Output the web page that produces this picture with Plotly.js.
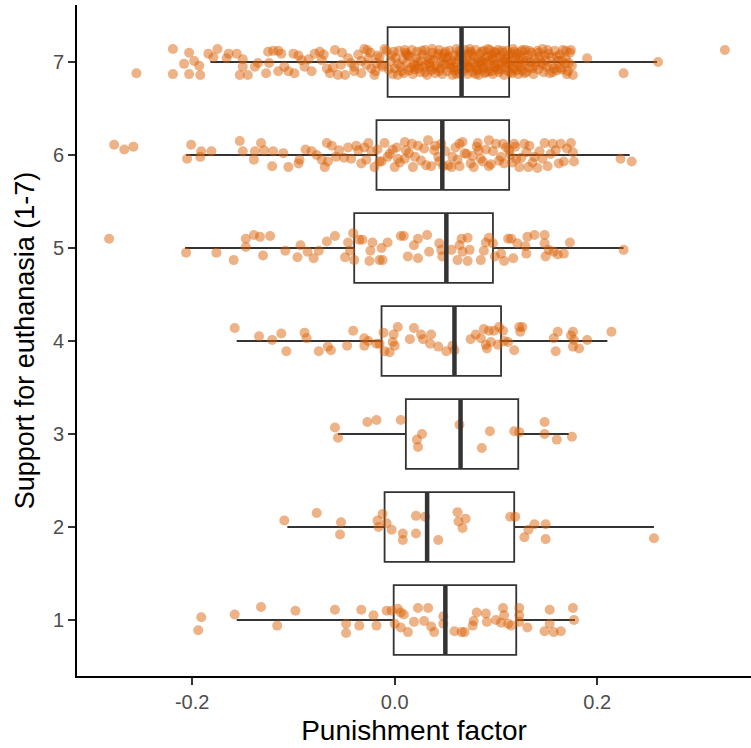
<!DOCTYPE html>
<html>
<head>
<meta charset="utf-8">
<script src="https://cdn.plot.ly/plotly-3.0.1.min.js"></script>
<style>html,body{margin:0;padding:0;background:#fff}#chart{width:751px;height:748px}</style>
</head>
<body>
<div id="chart"></div>
<script>
// Box statistics per group (Support for euthanasia 1..7)
const groups      = [1, 2, 3, 4, 5, 6, 7];
const q1Vals      = [-0.001, -0.010, 0.011, -0.013, -0.040, -0.018, -0.007];
const medianVals  = [0.050, 0.032, 0.065, 0.059, 0.051, 0.047, 0.066];
const q3Vals      = [0.120, 0.118, 0.122, 0.105, 0.097, 0.113, 0.113];
const lowerVals   = [-0.156, -0.106, -0.056, -0.156, -0.207, -0.206, -0.182];
const upperVals   = [0.178, 0.256, 0.172, 0.210, 0.226, 0.232, 0.259];
const xTickVals   = [-0.2, 0.0, 0.2];
const xTickText   = ['-0.2', '0.0', '0.2'];

// Jittered points: [punishment factor, jittered group position]
const pts1 = [[-0.191,1.03],[-0.194,0.89],[-0.158,1.06],[-0.132,1.14],[-0.116,0.94],[-0.098,1.10],[-0.059,1.11],[-0.048,0.96],[-0.048,0.86],[-0.035,0.94],[-0.033,1.11],[-0.021,1.05],[-0.018,0.94],[-0.008,1.10],[-0.003,1.10],[0.000,0.96],[0.003,1.12],[0.006,0.92],[0.006,1.08],[0.009,1.06],[0.013,0.87],[0.019,0.98],[0.023,1.13],[0.029,0.99],[0.033,1.13],[0.036,0.93],[0.039,0.87],[0.048,1.04],[0.048,0.96],[0.059,0.88],[0.066,0.87],[0.069,0.87],[0.077,0.94],[0.078,0.99],[0.081,1.08],[0.090,1.07],[0.091,0.98],[0.100,1.00],[0.105,0.97],[0.108,1.05],[0.107,1.13],[0.112,0.96],[0.115,0.94],[0.123,1.13],[0.123,1.05],[0.123,0.98],[0.131,0.92],[0.148,0.88],[0.153,1.11],[0.153,0.96],[0.157,0.87],[0.164,0.88],[0.176,1.13],[0.177,1.00]];
const pts2 = [[-0.109,2.07],[-0.077,2.15],[-0.053,2.05],[-0.054,1.92],[-0.017,2.07],[-0.016,2.00],[-0.012,2.14],[-0.008,2.04],[-0.003,1.97],[0.008,1.93],[0.008,1.86],[0.021,2.12],[0.021,1.93],[0.030,2.11],[0.043,1.86],[0.062,2.16],[0.063,2.06],[0.070,2.09],[0.067,1.99],[0.114,2.11],[0.119,2.11],[0.132,1.97],[0.138,2.03],[0.128,1.89],[0.149,2.03],[0.149,1.87],[0.256,1.88]];
const pts3 = [[-0.059,3.07],[-0.056,2.96],[-0.027,3.13],[-0.018,3.15],[0.006,3.15],[0.027,3.00],[0.022,2.94],[0.023,2.86],[0.064,3.10],[0.086,2.85],[0.094,3.03],[0.118,3.03],[0.123,3.02],[0.148,3.13],[0.148,3.00],[0.160,2.94],[0.175,2.97]];
const pts4 = [[-0.158,4.14],[-0.134,4.05],[-0.121,4.01],[-0.112,4.08],[-0.107,3.89],[-0.089,4.09],[-0.087,4.03],[-0.075,3.89],[-0.066,3.94],[-0.063,3.90],[-0.047,3.95],[-0.041,4.11],[-0.030,4.03],[-0.030,3.95],[-0.026,4.00],[-0.018,3.97],[-0.015,3.97],[-0.011,4.09],[-0.010,3.89],[-0.005,3.88],[-0.002,3.99],[-0.001,4.07],[0.003,4.15],[0.000,3.95],[0.015,4.02],[0.019,4.14],[0.026,4.07],[0.028,4.02],[0.036,4.07],[0.035,3.97],[0.043,3.94],[0.051,3.89],[0.057,3.95],[0.059,3.90],[0.075,4.02],[0.080,4.07],[0.085,4.03],[0.088,4.13],[0.090,3.96],[0.091,3.92],[0.093,4.11],[0.095,3.99],[0.098,4.11],[0.102,3.96],[0.103,4.15],[0.107,4.11],[0.108,4.00],[0.112,3.99],[0.118,3.90],[0.123,4.15],[0.124,4.10],[0.126,4.15],[0.157,4.03],[0.159,3.89],[0.161,4.10],[0.174,4.06],[0.176,4.10],[0.177,4.01],[0.176,3.94],[0.182,3.92],[0.190,4.01],[0.214,4.10]];
const pts5 = [[-0.282,5.10],[-0.206,4.95],[-0.176,4.95],[-0.159,4.87],[-0.147,5.10],[-0.147,5.01],[-0.139,5.14],[-0.133,5.12],[-0.130,4.92],[-0.123,5.13],[-0.108,4.97],[-0.096,4.90],[-0.093,5.03],[-0.086,4.96],[-0.080,4.89],[-0.075,4.97],[-0.067,5.07],[-0.059,5.13],[-0.049,4.90],[-0.046,5.06],[-0.044,4.97],[-0.040,4.87],[-0.041,5.16],[-0.035,5.09],[-0.032,5.09],[-0.024,4.97],[-0.022,5.06],[-0.025,4.86],[-0.015,4.87],[-0.013,5.00],[-0.012,4.87],[-0.007,5.06],[0.006,5.13],[0.009,5.13],[0.013,4.91],[0.019,5.03],[0.023,4.89],[0.023,5.10],[0.032,5.14],[0.034,4.96],[0.044,5.05],[0.046,4.98],[0.047,4.91],[0.056,4.98],[0.062,4.87],[0.064,5.03],[0.066,5.10],[0.067,4.96],[0.072,5.11],[0.072,4.86],[0.074,4.98],[0.085,4.87],[0.088,4.97],[0.090,5.06],[0.093,5.11],[0.097,5.05],[0.099,4.91],[0.105,4.94],[0.108,4.86],[0.112,5.10],[0.115,5.10],[0.117,4.89],[0.121,5.05],[0.129,5.02],[0.131,5.12],[0.130,4.94],[0.138,5.14],[0.148,5.14],[0.148,5.05],[0.149,4.91],[0.152,4.98],[0.157,4.96],[0.161,4.93],[0.167,4.94],[0.173,5.06],[0.226,4.98]];
const pts6 = [[-0.277,6.11],[-0.267,6.06],[-0.258,6.09],[-0.201,6.11],[-0.205,5.96],[-0.191,6.04],[-0.192,5.98],[-0.181,6.04],[-0.153,6.15],[-0.150,6.04],[-0.139,5.95],[-0.138,6.04],[-0.132,6.13],[-0.129,6.05],[-0.120,6.04],[-0.121,5.88],[-0.105,5.87],[-0.094,5.95],[-0.095,5.91],[-0.088,6.06],[-0.082,6.04],[-0.077,6.00],[-0.072,5.95],[-0.069,5.87],[-0.067,6.13],[-0.066,5.93],[-0.058,5.98],[-0.055,6.05],[-0.046,6.08],[-0.043,5.96],[-0.038,6.10],[-0.036,6.05],[-0.033,5.91],[-0.028,5.95],[-0.026,6.13],[-0.023,6.04],[-0.020,5.87],[-0.017,6.06],[-0.013,5.93],[-0.010,6.13],[-0.007,5.98],[-0.002,6.06],[0.000,5.87],[0.003,5.96],[0.010,6.14],[0.011,6.05],[0.010,5.96],[0.020,5.98],[0.018,5.87],[0.023,6.10],[0.033,6.16],[0.036,5.88],[0.039,6.05],[0.043,5.98],[0.046,6.12],[0.048,5.88],[0.056,5.87],[0.057,5.98],[0.064,6.12],[0.064,5.88],[0.069,6.02],[0.075,5.91],[0.077,5.99],[0.082,6.13],[0.083,6.05],[0.085,5.96],[0.093,6.16],[0.093,5.88],[0.097,6.04],[0.105,5.98],[0.107,6.12],[0.108,5.91],[0.113,6.05],[0.118,6.12],[0.120,5.96],[0.123,5.87],[0.128,6.12],[0.130,6.03],[0.132,5.87],[0.138,5.98],[0.141,5.86],[0.148,6.13],[0.151,5.88],[0.156,6.12],[0.159,6.05],[0.164,6.12],[0.167,5.93],[0.174,6.13],[0.176,6.03],[0.177,5.93],[0.223,5.96],[0.234,5.93],
[0.002,6.08],[0.005,5.92],[0.014,6.02],[0.017,6.12],[0.026,5.94],[0.029,6.07],[0.031,5.89],[0.040,6.10],[0.044,5.93],[0.050,6.04],[0.053,5.89],[0.060,6.08],[0.062,5.95],[0.067,6.14],[0.071,6.01],[0.078,5.87],[0.081,6.09],[0.087,5.93],[0.090,6.06],[0.095,5.90],[0.100,6.12],[0.103,5.94],[0.110,6.08],[0.114,6.00],[0.116,5.92],[0.119,6.09],[0.125,5.97],[0.133,6.10],[0.136,5.92],[0.143,6.04],[0.146,5.96],[0.154,6.01],[0.162,5.91],[0.170,6.07],[-0.005,6.01],[-0.015,5.93],[-0.030,6.08],[-0.050,5.97],[-0.062,6.10],[-0.110,6.02]];
const pts7 = [[-0.255,6.88],[-0.219,7.14],[-0.219,6.87],[-0.203,7.10],[-0.208,6.98],[-0.203,6.87],[-0.198,7.01],[-0.193,6.96],[-0.192,6.86],[-0.184,7.09],[-0.175,7.14],[-0.179,7.05],[-0.166,7.04],[-0.164,7.09],[-0.156,7.09],[-0.150,7.03],[-0.153,6.86],[-0.145,6.86],[-0.150,6.95],[-0.138,6.95],[-0.135,6.99],[-0.127,6.88],[-0.124,6.99],[-0.125,7.11],[-0.120,7.12],[-0.115,7.12],[-0.112,7.09],[-0.115,6.90],[-0.109,6.95],[-0.105,6.90],[-0.100,7.09],[-0.095,7.07],[-0.092,7.02],[-0.099,6.88],[-0.089,6.95],[-0.082,6.90],[-0.079,7.09],[-0.074,7.11],[-0.072,7.02],[-0.067,6.93],[-0.059,7.13],[-0.064,6.88],[-0.056,6.86],[-0.049,6.86],[-0.053,6.97],[-0.046,7.04],[-0.040,6.95],[-0.033,6.88],[-0.030,7.14],[-0.026,7.04],[-0.023,6.93],[-0.020,6.86],[-0.017,7.07],[-0.013,6.97],[-0.010,7.14],[-0.003,7.07],[0.000,6.93],[0.003,6.86],
[-0.028,6.97],[-0.024,7.10],[-0.019,6.90],[-0.015,7.05],[-0.012,6.95],[-0.008,7.12],[-0.006,6.92],[-0.004,7.01],[-0.002,6.87],[-0.036,7.08],[-0.043,6.99],[-0.052,7.10],[-0.061,6.94],[-0.070,7.08],[-0.085,7.03],[-0.040,6.90],
[0.004,7.12],[0.006,6.95],[0.008,7.03],[0.009,6.88],[0.011,7.10],[0.012,6.99],[0.014,6.91],[0.015,7.06],[0.017,7.13],[0.018,6.87],[0.019,6.97],[0.021,7.04],[0.022,7.11],[0.024,6.93],[0.025,6.89],[0.026,7.01],[0.028,7.08],[0.029,6.95],[0.030,7.13],[0.032,6.86],[0.033,7.05],[0.034,6.99],[0.036,6.91],[0.037,7.10],[0.038,7.02],[0.040,6.88],[0.041,6.96],[0.042,7.07],[0.044,7.13],[0.045,6.93],[0.046,7.00],[0.047,6.87],[0.049,7.09],[0.050,6.97],[0.051,7.04],[0.052,6.90],[0.054,7.12],[0.055,6.94],[0.056,7.01],[0.057,6.86],[0.058,7.07],[0.060,6.99],[0.061,7.14],[0.062,6.92],[0.063,7.03],[0.064,6.88],[0.065,7.10],[0.066,6.96],[0.067,7.05],[0.068,6.90],[0.069,7.13],[0.070,6.98],[0.071,7.02],[0.072,6.87],[0.073,7.08],[0.074,6.94],[0.075,7.11],[0.076,7.00],[0.077,6.89],[0.078,7.06],[0.079,6.95],[0.080,7.13],[0.081,6.91],[0.082,7.03],[0.083,6.86],[0.084,7.09],[0.085,6.97],[0.086,7.01],[0.087,6.93],[0.088,7.12],[0.089,6.88],[0.090,7.05],[0.091,6.99],[0.092,7.14],[0.093,6.90],[0.094,7.02],[0.095,6.96],[0.096,7.08],[0.097,6.87],[0.098,7.11],[0.099,6.94],[0.100,7.04],[0.101,6.98],[0.102,7.13],[0.103,6.89],[0.104,7.06],[0.105,6.92],[0.106,7.00],[0.107,7.10],[0.108,6.86],[0.109,7.03],[0.110,6.95],[0.111,7.12],[0.112,6.90],[0.113,7.07],[0.114,6.97],[0.115,7.01],[0.116,6.88],[0.117,7.14],[0.118,6.93],[0.119,7.05],[0.120,6.99],[0.121,7.09],[0.122,6.87],[0.123,7.02],[0.124,6.95],[0.125,7.11],[0.126,6.91],[0.127,7.04],[0.128,6.98],[0.129,7.13],[0.130,6.89],[0.132,7.07],[0.133,6.94],[0.134,7.00],[0.135,7.10],[0.137,6.87],[0.138,7.03],[0.139,6.96],[0.141,7.12],[0.142,6.92],[0.143,7.06],[0.145,6.99],[0.146,7.14],[0.147,6.89],[0.149,7.02],[0.150,6.95],[0.152,7.09],[0.153,6.88],[0.155,7.05],[0.156,6.97],[0.158,7.12],[0.160,6.91],[0.161,7.01],[0.163,7.08],[0.164,6.94],[0.166,7.13],[0.168,6.98],[0.169,7.04],[0.171,6.90],[0.173,7.10],[0.175,6.96],
[0.001,7.04],[0.007,6.90],[0.013,7.07],[0.020,6.92],[0.027,7.12],[0.031,6.97],[0.035,7.03],[0.039,6.93],[0.043,7.09],[0.048,6.98],[0.053,7.06],[0.059,6.91],[0.064,7.12],[0.068,7.00],[0.072,6.95],[0.076,7.09],[0.080,6.87],[0.084,7.00],[0.088,6.94],[0.092,7.06],[0.096,6.90],[0.100,7.10],[0.104,6.96],[0.108,7.03],[0.112,6.98],[0.116,7.09],[0.120,6.91],[0.124,7.06],[0.128,6.88],[0.133,7.12],[0.140,7.00],[0.148,7.07],[0.157,6.93],[0.165,7.02],[0.170,6.87],[0.174,7.13],
[0.003,6.98],[0.010,7.13],[0.016,6.94],[0.023,7.00],[0.030,6.89],[0.037,7.14],[0.044,6.90],[0.050,7.11],[0.055,6.98],[0.061,6.87],[0.066,7.08],[0.070,6.93],[0.074,7.14],[0.078,6.99],[0.082,6.92],[0.086,7.11],[0.090,6.89],[0.094,7.13],[0.098,6.97],[0.102,6.92],[0.106,7.12],[0.110,7.00],[0.114,6.89],[0.118,7.11],[0.122,6.96],[0.126,7.13],[0.130,7.01],[0.136,6.93],[0.142,7.10],[0.147,6.97],[0.151,7.13],[0.156,6.89],[0.160,7.06],[0.165,6.92],[0.169,7.12],[0.172,6.99],[0.058,6.95],[0.063,7.06],[0.087,7.00],[0.097,7.04],[0.047,7.05],[0.035,6.95],[0.021,6.96],[0.012,7.08],[-0.001,7.11],[-0.018,6.99],[-0.027,7.13],[-0.033,7.01],
[0.176,6.86],[0.190,7.04],[0.226,6.88],[0.260,7.00],[0.326,7.13]];

const allPts = [pts1, pts2, pts3, pts4, pts5, pts6, pts7];
const px = [], py = [];
allPts.forEach(g => g.forEach(p => { px.push(p[0]); py.push(p[1]); }));

const halfW = 0.375;
const medX = [], medY = [];
groups.forEach((g, i) => { medX.push(medianVals[i], medianVals[i], null); medY.push(g - halfW, g + halfW, null); });

const traces = [
  {
    type: 'box', orientation: 'h', y: groups,
    q1: q1Vals, median: medianVals, q3: q3Vals,
    lowerfence: lowerVals, upperfence: upperVals,
    width: 0.75, whiskerwidth: 0,
    fillcolor: 'rgba(0,0,0,0)',
    line: {color: '#333333', width: 1.8},
    boxpoints: false, showlegend: false, hoverinfo: 'skip'
  },
  {
    type: 'scatter', mode: 'markers', x: px, y: py,
    marker: {color: 'rgba(217,95,2,0.48)', size: 10, line: {width: 0}},
    showlegend: false, hoverinfo: 'skip'
  },
  {
    type: 'scatter', mode: 'lines', x: medX, y: medY,
    line: {color: '#333333', width: 4.5},
    showlegend: false, hoverinfo: 'skip'
  }
];

const layout = {
  width: 751, height: 748,
  margin: {l: 77, r: 0, t: 5, b: 72},
  paper_bgcolor: '#ffffff', plot_bgcolor: '#ffffff',
  font: {family: 'Liberation Sans, Arial, sans-serif'},
  showlegend: false,
  xaxis: {
    range: [-0.3137, 0.3518],
    tickvals: xTickVals, ticktext: xTickText,
    showgrid: false, zeroline: false,
    showline: true, linecolor: '#000000', linewidth: 2,
    ticks: 'outside', ticklen: 7, tickwidth: 1.8, tickcolor: '#333333',
    tickfont: {size: 20, color: '#4d4d4d'},
    title: {text: 'Punishment factor', font: {size: 28, color: '#000000'}, standoff: 8}
  },
  yaxis: {
    range: [0.398, 7.613],
    tickvals: groups, ticktext: groups.map(String),
    showgrid: false, zeroline: false,
    showline: true, linecolor: '#000000', linewidth: 2,
    ticks: 'outside', ticklen: 7, tickwidth: 1.8, tickcolor: '#333333',
    tickfont: {size: 20, color: '#4d4d4d'},
    title: {text: 'Support for euthanasia (1-7)', font: {size: 27, color: '#000000'}, standoff: 10}
  }
};

Plotly.newPlot('chart', traces, layout, {displayModeBar: false, staticPlot: true});
</script>
</body>
</html>
